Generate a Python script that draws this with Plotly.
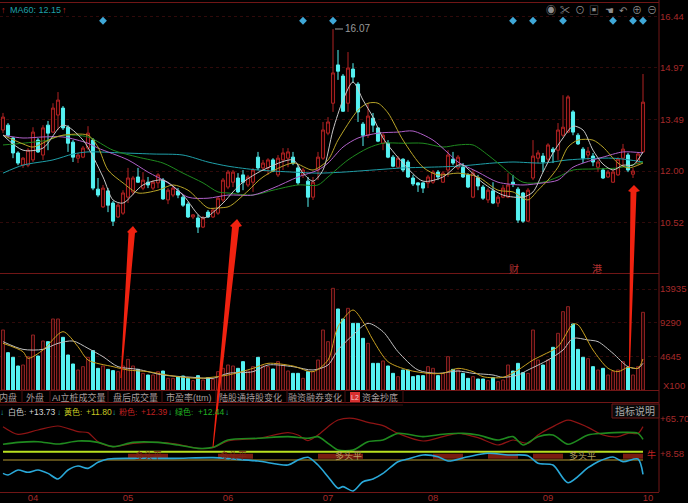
import plotly.graph_objects as go
from plotly.subplots import make_subplots

W = 688
H = 503

# daily candles, one row per list position
opens = [13.18,13.32,12.95,12.52,12.17,12.17,12.32,12.89,12.46,13.32,13.12,13.61,13.81,13.26,12.83,12.37,12.40,12.66,12.89,11.48,
         10.97,11.43,11.08,10.68,10.79,11.25,11.40,11.83,11.51,11.68,11.51,11.66,11.74,11.17,11.31,11.43,11.25,11.05,10.68,10.65,
         10.39,10.82,10.68,10.79,11.17,11.54,11.68,11.80,11.89,11.60,11.68,12.40,12.09,12.09,12.32,11.89,12.32,12.37,12.40,12.09,
         11.89,11.71,11.25,12.03,12.37,13.09,13.95,15.05,14.73,13.95,14.93,14.50,13.35,13.03,13.52,13.24,12.80,12.80,12.40,12.11,
         12.34,12.26,11.80,11.66,11.66,11.66,11.68,11.97,11.68,12.03,12.34,12.09,12.11,11.89,11.25,11.80,11.54,11.17,11.43,11.08,
         11.25,11.25,11.68,11.48,11.37,10.56,11.80,12.37,12.43,12.34,12.63,12.60,13.03,13.12,13.70,13.03,12.63,12.46,12.43,12.11,
         12.03,11.83,11.68,11.89,12.37,12.46,11.91,12.23,12.55]
highs = [13.67,13.38,12.98,12.57,12.40,12.66,13.26,12.95,13.32,13.44,13.95,14.27,13.87,13.32,12.89,12.52,12.72,13.29,12.95,11.80,
         11.60,11.51,11.14,11.08,11.45,12.09,11.86,12.09,11.97,11.83,11.74,11.94,11.80,11.51,11.57,11.51,11.31,11.11,10.76,10.74,
         10.71,10.88,10.94,11.28,11.80,12.03,12.03,11.94,12.03,11.89,12.09,12.55,12.32,12.37,12.37,12.46,12.66,12.66,12.55,12.17,
         12.09,11.83,11.83,12.55,13.41,13.55,16.08,15.48,14.79,15.42,15.10,14.56,13.41,13.95,13.67,13.26,13.09,12.89,12.46,12.43,
         12.37,12.32,11.89,11.68,11.68,11.89,12.03,12.03,12.00,12.60,12.55,12.46,12.23,11.94,12.03,11.89,11.60,11.51,11.68,11.31,
         11.60,11.94,11.89,11.54,11.40,11.51,12.89,12.60,12.52,12.80,12.69,13.38,14.18,14.18,13.75,13.09,12.69,12.69,12.52,12.32,
         12.09,12.03,12.03,12.40,12.78,12.52,12.09,12.55,14.79]
lows = [13.09,12.98,12.37,12.17,12.09,12.11,12.26,12.52,12.32,12.60,13.09,13.18,13.18,12.55,12.26,12.23,12.37,12.60,11.45,11.25,
        10.94,10.82,10.42,10.65,10.74,11.08,11.31,11.66,11.45,11.51,11.45,11.51,11.17,11.05,11.25,11.22,10.97,10.65,10.62,10.22,
        10.36,10.65,10.65,10.74,11.11,11.48,11.54,11.37,11.45,11.54,11.40,12.03,12.03,11.89,11.97,11.83,12.03,12.11,12.17,11.60,
        11.80,10.97,11.17,11.74,12.32,13.03,13.70,14.62,13.70,13.70,14.53,13.41,12.72,12.95,13.12,12.83,12.60,12.37,12.11,12.09,
        11.97,11.80,11.57,11.40,11.37,11.51,11.63,11.74,11.66,11.83,12.17,12.03,11.80,11.51,11.22,11.45,11.17,11.08,11.05,10.97,
        11.22,11.22,11.54,10.51,10.51,10.54,11.74,12.23,11.97,12.26,12.23,12.32,12.98,13.09,13.03,12.75,12.23,12.32,12.14,11.97,
        11.77,11.80,11.66,11.86,12.11,11.97,11.80,12.17,12.52]
closes = [13.55,13.03,12.52,12.23,12.37,12.60,13.12,12.55,13.24,13.09,13.81,14.04,13.24,12.80,12.40,12.46,12.66,13.09,11.51,11.31,
          11.51,11.02,10.56,11.02,11.37,11.80,11.80,11.68,11.74,11.60,11.68,11.89,11.20,11.45,11.51,11.31,11.02,10.68,10.74,10.39,
          10.65,10.68,10.88,11.22,11.74,11.97,11.97,11.40,11.68,11.83,12.03,12.09,12.23,12.32,12.00,12.37,12.52,12.55,12.23,11.66,
          12.03,11.25,11.68,12.40,13.18,13.41,14.82,14.87,13.72,14.96,14.70,13.70,13.03,13.58,13.32,12.86,13.03,12.40,12.14,12.37,
          12.03,11.83,11.63,11.60,11.51,11.83,11.97,11.83,11.94,12.46,12.23,12.40,11.83,11.54,11.94,11.57,11.22,11.45,11.08,11.25,
          11.51,11.60,11.63,10.59,10.56,11.45,12.43,12.52,12.26,12.75,12.55,13.18,13.26,14.13,13.12,12.78,12.37,12.57,12.26,12.26,
          11.80,11.97,11.97,12.34,12.63,12.03,12.00,12.49,13.98]
days = list(range(len(opens)))

white_days = [0,4,8,12,16,20,22,24,28,32,36,40,44,46,48,52,58,60,62,64,66,68,70,72,74,76,80,84,88,91,92,96,100,104,106,108,110,112,114,116,118,120,122,124,126,128]
ma_white = [13.03,12.60,12.66,13.32,12.89,11.83,11.17,11.08,11.60,11.74,11.31,10.65,11.08,11.40,11.68,12.03,12.32,11.94,11.71,12.03,13.18,14.04,14.56,14.04,13.55,12.95,12.23,11.71,11.83,12.17,12.17,11.66,11.31,11.25,11.40,11.97,12.52,12.95,13.29,13.18,12.60,12.20,12.03,12.17,12.17,12.55]
yellow_days = [0,4,6,10,12,17,19,21,24,27,31,34,37,41,43,45,46,49,52,58,62,65,67,71,73,75,77,80,84,87,91,95,99,102,105,107,109,111,113,115,118,120,123,125,128]
ma_yellow = [13.03,12.78,12.69,12.95,13.03,13.03,12.69,12.03,11.66,11.37,11.45,11.60,11.45,10.94,10.94,10.97,11.05,11.43,11.83,12.23,12.03,12.32,12.89,13.75,13.95,13.95,13.67,12.89,12.11,11.89,11.94,11.83,11.45,11.40,11.17,11.45,11.74,12.11,12.69,12.89,12.89,12.69,12.23,12.09,12.23]
purple_days = [0,4,8,12,17,19,25,29,33,37,41,45,50,54,59,63,65,68,71,75,79,82,86,89,91,95,99,104,108,111,114,118,120,124,128]
ma_purple = [13.03,12.95,12.98,12.98,12.80,12.66,12.32,11.97,11.66,11.25,11.22,11.31,11.31,11.51,11.83,12.03,12.23,12.69,12.95,13.09,13.12,13.15,12.89,12.52,12.26,11.97,11.68,11.60,11.66,11.74,12.11,12.32,12.40,12.55,12.52]
green_days = [0,4,9,12,17,22,27,32,36,40,43,45,50,54,59,63,65,69,73,76,80,84,88,91,94,97,99,104,108,111,114,118,123,128]
ma_green = [12.75,12.80,12.89,13.03,12.98,12.60,12.40,12.23,11.94,11.66,11.40,11.37,11.31,11.45,11.60,11.60,11.83,12.32,12.66,12.80,12.80,12.80,12.69,12.75,12.75,12.46,12.23,11.68,11.68,11.83,12.03,12.06,12.09,12.26]
teal_days = [0,4,10,14,17,24,30,36,41,45,51,58,63,68,74,80,85,91,98,102,108,113,122,128]
ma_teal = [11.94,12.17,12.32,12.49,12.55,12.52,12.49,12.46,12.26,12.14,12.03,11.97,11.94,11.97,12.03,12.09,12.11,12.14,12.23,12.26,12.23,12.32,12.37,12.26]

volumes = [8280,5150,4510,3310,3450,4600,7590,4690,6760,6670,9800,9800,7270,4830,3590,2760,3220,4510,5430,2990,
           3310,2850,2670,2530,3310,4230,3310,2850,2300,2070,2070,2530,2620,1610,1610,1840,1930,1610,1290,1980,
           1380,1700,1470,2530,2990,3450,3310,2990,3910,2620,3220,4510,3310,3220,2900,3910,3450,2620,2300,2300,
           1610,2530,2530,4140,8280,6670,14030,11180,9800,11270,9200,9200,7130,6440,3680,3680,4000,3310,2300,1840,
           2760,2760,1840,1980,1980,3220,2990,1980,2300,4600,2850,2760,2300,1610,1840,1520,1520,1290,1700,1150,
           1380,3450,2620,3680,2390,2300,8280,4140,3450,4140,5890,7820,10810,11500,9110,5610,4510,4320,3220,2760,
           2990,2070,2530,2760,3910,3130,2070,3220,10720]
vol_yellow_days = [0,4,5,8,12,15,17,22,25,29,34,39,45,50,53,58,62,65,67,70,72,74,77,81,85,88,91,94,96,100,103,106,108,111,114,115,118,121,123,125,127,128]
vol_yellow = [6440,5290,4370,5520,8050,5980,4140,3220,2760,2530,1930,1610,2070,2990,3680,3310,2530,4140,8740,11040,9430,6900,3910,2760,2300,2300,2990,2530,1840,1750,2760,4140,4830,5980,9110,9000,5520,3000,2530,3130,2990,4280]
vol_white_days = [0,4,8,11,14,17,20,23,27,32,38,42,45,50,53,58,62,65,67,70,73,76,79,83,87,91,94,98,100,103,105,109,112,114,117,119,122,125,127,128]
vol_white = [6670,5610,5610,6440,6760,5750,4600,3220,2850,2070,1750,1610,2300,2530,3450,3220,2760,3450,5520,7590,9200,8050,5290,2760,2300,2620,2300,2070,1750,2070,2760,4140,5520,7130,6900,6670,5060,3220,2990,3680]

ind_red_days = [0,3,7,11,15,17,19,22,26,31,35,39,42,45,51,57,59,61,63,65,67,70,73,76,79,84,88,91,95,99,102,105,107,110,113,117,120,123,125,127,128]
ind_red = [53.2,40.7,47.8,54.3,45.0,43.4,28.7,20.6,26.0,27.6,24.4,17.8,18.9,29.8,34.2,43.4,39.6,30.4,39.6,53.2,64.0,66.8,60.3,54.8,42.3,29.8,36.9,42.3,35.2,23.3,31.4,26.0,39.6,53.2,64.0,52.1,39.6,36.9,42.3,42.3,53.2]
ind_green_days = [0,3,7,11,15,19,22,26,31,35,39,42,45,51,57,61,63,65,67,70,73,76,79,84,88,92,95,99,102,104,107,110,113,117,120,124,127,128]
ind_green = [24.4,27.6,28.7,24.9,29.8,27.6,20.6,27.6,27.6,23.3,17.8,19.5,31.4,34.2,36.9,34.2,36.9,26.0,15.1,15.1,28.7,31.4,42.3,36.9,40.7,42.3,39.6,31.4,36.9,23.3,36.9,39.6,24.4,39.6,42.3,43.9,42.3,32.5]
ind_blue_days = [0,1,3,5,7,9,11,13,15,17,19,21,26,34,42,46,51,57,59,61,63,65,67,68,70,72,74,76,79,81,84,87,89,93,97,101,105,107,110,113,117,119,122,124,127,128]
ind_blue = [-23.0,-25.7,-17.5,-21.3,-17.5,-23.0,-32.2,-17.5,-11.0,-14.8,-5.0,0.4,1.5,1.5,2.6,0.4,-2.8,-9.4,-1.2,3.2,-9.4,-28.4,-47.4,-44.7,-51.8,-36.6,-32.2,-23.0,-3.9,0.4,7.0,4.2,-2.8,4.2,9.7,7.0,5.9,-6.6,-9.4,-38.2,-13.7,-3.9,3.7,-3.9,0.4,-24.6]
band_days = [0,128]
band_upper = [12.4,12.4]
band_lower = [-1.2,-1.2]
# stretches of the band that are painted red
red_band_days = [25,33,None,43,50,None,63,72,None,86,92,None,97,103,None,106,112,None,124,128]
red_band = [5.0,5.0,None,5.0,5.0,None,5.0,5.0,None,5.0,5.0,None,5.0,5.0,None,5.0,5.0,None,5.0,5.0]

flag_days = [20,60,66,102,106,112,122,126,128]
month_days = [6,25,45,65,86,109,129]
month_labels = ["04","05","06","07","08","09","10"]
price_ticks = [16.44,14.97,13.49,12.00,10.52]
vol_ticks = [13935,9290,4645]
ind_ticks = [65.70,8.58]

CN = "Liberation Sans, Noto Sans CJK SC"
DARK_RED = "#a52a2a"
LINE_RED = "#701616"
CYAN = "#55f2f2"


def px_x(x):
    return x / W


def px_y(y):
    return 1 - y / H


def label(x, y, text, color, size=10, anchor="center"):
    fig.add_annotation(x=px_x(x), y=px_y(y), xref="paper", yref="paper", text=text, showarrow=False,
                       xanchor=anchor, yanchor="middle", borderpad=0, font=dict(family=CN, size=size, color=color))


def line_px(x0, y0, x1, y1, color=LINE_RED, width=1):
    fig.add_shape(type="line", xref="paper", yref="paper", x0=px_x(x0), y0=px_y(y0), x1=px_x(x1), y1=px_y(y1),
                  line=dict(color=color, width=width))


def arrow(points):
    path = "M " + " L ".join(f"{px_x(x):.4f},{px_y(y):.4f}" for x, y in points) + " Z"
    fig.add_shape(type="path", xref="paper", yref="paper", path=path, fillcolor="#f02210", line=dict(width=0), layer="above")


def ma_line(x, y, color, row=1, width=1, smooth=True):
    fig.add_trace(go.Scatter(x=x, y=y, mode="lines", line=dict(color=color, width=width, shape="spline" if smooth else "linear", smoothing=0.8),
                             connectgaps=False, hoverinfo="skip"), row=row, col=1)


fig = make_subplots(rows=3, cols=1, shared_xaxes=True)

fig.add_trace(go.Candlestick(x=days, open=opens, high=highs, low=lows, close=closes, whiskerwidth=0,
                             increasing=dict(line=dict(color="#b02222", width=1), fillcolor="#1c0000"),
                             decreasing=dict(line=dict(color=CYAN, width=1), fillcolor=CYAN)), row=1, col=1)
ma_line(teal_days, ma_teal, "#1f9fa8")
ma_line(green_days, ma_green, "#1f8a1f")
ma_line(purple_days, ma_purple, "#b060c8")
ma_line(yellow_days, ma_yellow, "#b8a428")
ma_line(white_days, ma_white, "#c8c8c8")
fig.add_trace(go.Scatter(x=flag_days, y=[16.32] * len(flag_days), mode="markers", hoverinfo="skip",
                         marker=dict(symbol="diamond", size=6, color="#3fa8d8")), row=1, col=1)

up = [c >= o for o, c in zip(opens, closes)]
fig.add_trace(go.Bar(x=days, y=volumes, width=0.6,
                     marker=dict(color=["#240606" if u else CYAN for u in up],
                                 line=dict(color=["#8c2020" if u else CYAN for u in up], width=1))), row=2, col=1)
ma_line(vol_white_days, vol_white, "#c0c0c0", row=2)
ma_line(vol_yellow_days, vol_yellow, "#c8a020", row=2)

ma_line(ind_red_days, ind_red, "#8e1414", row=3, width=1.2)
ma_line(ind_green_days, ind_green, "#1f8a1f", row=3, width=1.6)
ma_line(red_band_days, red_band, "#7a1c10", row=3, width=5, smooth=False)
ma_line(band_days, band_upper, "#b8e020", row=3, width=2, smooth=False)
ma_line(band_days, band_lower, "#b89a30", row=3, width=1, smooth=False)
ma_line(ind_blue_days, ind_blue, "#2aa8d8", row=3, width=1.6)

axis_font = dict(family=CN, size=9.5, color=DARK_RED)
fig.update_xaxes(range=[-0.6, 131.2], domain=[0, 659 / W], showgrid=False, zeroline=False, showline=True, linecolor=LINE_RED,
                 linewidth=1, ticks="", rangeslider_visible=False, automargin=False)
fig.update_xaxes(tickvals=month_days, ticktext=month_labels, tickfont=axis_font, ticklen=0, ticklabelstandoff=-3, row=3, col=1)
fig.update_xaxes(mirror=True, row=1, col=1)
fig.update_xaxes(mirror=True, row=3, col=1)
fig.update_yaxes(side="right", zeroline=False, showline=False, tickfont=axis_font, ticks="", griddash="dot", gridcolor="#300a0a",
                 gridwidth=1, automargin=False)
fig.update_yaxes(domain=[px_y(273), px_y(3)], range=[9.07, 16.83], tickvals=price_ticks, ticktext=[f"{v:.2f}" for v in price_ticks], row=1, col=1)
fig.update_yaxes(domain=[px_y(390), px_y(273)], range=[0, 16146], tickvals=vol_ticks, ticktext=[str(v) for v in vol_ticks], row=2, col=1)
fig.update_yaxes(domain=[px_y(492), px_y(403)], range=[-53.4, 91.8], tickvals=ind_ticks, ticktext=[f"+{v:.2f}" for v in ind_ticks], showgrid=False, row=3, col=1)

line_px(659, 0, 659, 492)
line_px(0, 405, 403, 405, color="#3c0c0c")

# big hand drawn arrows
arrow([(133, 226), (137.5, 232), (135, 233), (121.5, 378), (120.5, 378), (128.5, 233), (127, 232)])
arrow([(237, 219), (242, 226), (239, 227), (213.5, 447), (212.5, 447), (232, 227), (230, 226)])
arrow([(634, 185), (640, 191), (636.5, 192), (630, 367), (629, 367), (630.5, 192), (628, 191)])

# price panel texts
label(3, 10, "↑", "#c02020", 9)
label(9, 10, "MA60: 12.15", "#1fa0a8", 9, "left")
label(64, 10, "↑", "#c02020", 9)
line_px(335, 29, 343, 29, color="#a0a0a0")
label(344, 29, "16.07", "#9a9a9a", 10, "left")
label(514, 269, "财", "#b03030", 10)
label(597, 269, "港", "#b03030", 10)
label(662, 385, "X100", DARK_RED, 9.5, "left")

icons = ["◉", "✂", "⊙", "▣", "☚", "↶", "⊕", "⊖"]
icon_x = [551, 565, 580, 594, 609, 623, 637, 652]
for gx, g in zip(icon_x, icons):
    label(gx, 10, g, "#8c8c8c", 10)

# tab strip
tabs = ["内盘", "外盘", "AI立桩成交量", "盘后成交量", "市盈率(ttm)", "陆股通持股变化", "融资融券变化", "资金抄底"]
tab_x = [8, 35, 79, 135, 189, 250, 315, 380]
for tx, t in zip(tab_x, tabs):
    label(tx, 397, t, "#a89c9c", 9)
for sx in [22, 50, 108, 162, 216, 287, 345, 403]:
    line_px(sx, 390, sx, 403, color="#4a1010")
fig.add_shape(type="rect", xref="paper", yref="paper", x0=px_x(350), y0=px_y(402), x1=px_x(360), y1=px_y(392),
              fillcolor="#d83030", line=dict(width=0))
label(355, 397, "L2", "#f0d0d0", 7)

# indicator legend
label(2, 412, "↓", "#1fa0a8", 8)
label(7, 412, "白色:", "#c8c8c8", 8, "left")
label(28, 412, "+13.73", "#d8d8d8", 8.5, "left")
label(59, 412, "↓", "#1fa0a8", 8)
label(63, 412, "黄色:", "#c8c820", 8, "left")
label(85, 412, "+11.80", "#c8c820", 8.5, "left")
label(114, 412, "↓", "#1fa0a8", 8)
label(118, 412, "粉色:", "#c02020", 8, "left")
label(140, 412, "+12.39", "#c02020", 8.5, "left")
label(170, 412, "↓", "#1fa0a8", 8)
label(174, 412, "绿色:", "#20b020", 8, "left")
label(197, 412, "+12.44", "#20b020", 8.5, "left")
label(227, 412, "↓", "#1fa0a8", 8)

fig.add_shape(type="rect", xref="paper", yref="paper", x0=px_x(612), y0=px_y(418), x1=px_x(659), y1=px_y(404),
              fillcolor="#0a0a0a", line=dict(color=LINE_RED, width=1))
label(635, 411, "指标说明", "#a8a8a8", 10)

label(148, 455, "多头平", "#7a2a18", 9)
label(233, 455, "多头平", "#7a2a18", 9)
label(348, 455, "多头平", "#b8a060", 9)
label(582, 455, "多头平", "#b8a060", 9)
label(651, 454, "牛", "#c02020", 9)

fig.update_layout(width=W, height=H, margin=dict(l=0, r=0, t=0, b=0), paper_bgcolor="#000000", plot_bgcolor="#000000",
                  showlegend=False, bargap=0.28, barmode="overlay", boxgap=0.12, font=dict(family=CN))
fig.write_html("out.html", config=dict(displayModeBar=False),
               post_script="document.body.style.margin='0';document.documentElement.style.overflow='hidden';")
